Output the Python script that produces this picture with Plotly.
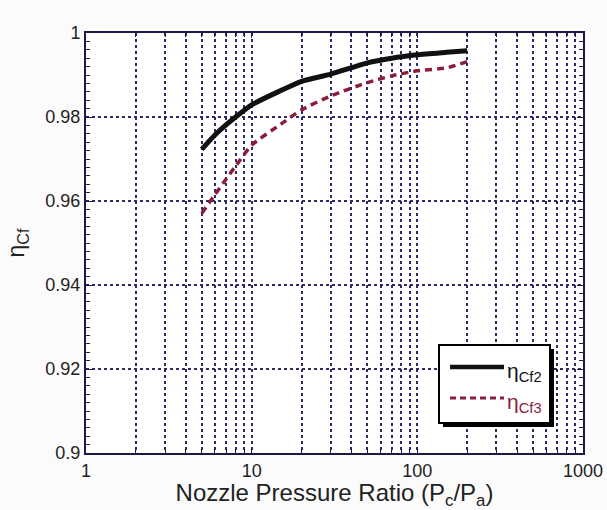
import plotly.graph_objects as go

# Nozzle pressure ratio samples (Pc/Pa)
npr = [5, 6, 7, 8, 10, 15, 20, 30, 50, 70, 100, 150, 200]
# Thrust-coefficient efficiencies
eta_cf2 = [0.9723, 0.9757, 0.9781, 0.9800, 0.9829, 0.9863, 0.9885, 0.9902, 0.9929, 0.9940, 0.9948, 0.9954, 0.9958]
eta_cf3 = [0.9571, 0.9615, 0.9652, 0.9683, 0.9733, 0.9783, 0.9817, 0.9850, 0.9882, 0.9898, 0.9910, 0.9917, 0.9932]
series_names = ["η<sub>Cf2</sub>", "η<sub>Cf3</sub>"]

x_ticks = [1, 10, 100, 1000]
x_tick_text = ["1", "10", "100", "1000"]
x_minor = [m * d for d in (1, 10, 100) for m in range(2, 10)]

FRAME = "#1c1848"
GRID = "#2e2a66"
BLACK = "#111111"
RED = "#8a1c3c"
FONT = "Liberation Sans, Arial, sans-serif"

fig = go.Figure()
fig.add_trace(go.Scatter(
    x=npr, y=eta_cf2, mode="lines", name=series_names[0], showlegend=False,
    line=dict(color=BLACK, width=5, shape="spline", smoothing=0.6),
))
fig.add_trace(go.Scatter(
    x=npr, y=eta_cf3, mode="lines", name=series_names[1], showlegend=False,
    line=dict(color=RED, width=3.5, dash="7px,5px", shape="spline", smoothing=0.6),
))

# Boxed key in the lower right, with a drop shadow (pixel -> paper helpers)
px0, py0, pw, ph = 86, 33, 497, 420
def pxx(v): return (v - px0) / pw
def pyy(v): return (py0 + ph - v) / ph

L, R, T, B = 439, 550, 345, 423
fig.add_shape(type="rect", xref="paper", yref="paper",
              x0=pxx(L + 4), x1=pxx(R + 4), y0=pyy(B + 4), y1=pyy(T + 4),
              fillcolor="#000000", line=dict(width=0), layer="above")
fig.add_shape(type="rect", xref="paper", yref="paper",
              x0=pxx(L), x1=pxx(R), y0=pyy(B), y1=pyy(T),
              fillcolor="#ffffff", line=dict(color="#000000", width=2), layer="above")

key_rows = [
    (367, BLACK, 4.5, "solid", BLACK),
    (398, RED, 3, "6px,4px", RED),
]
for (ky, col, w, dash, tcol), label in zip(key_rows, series_names):
    fig.add_shape(type="line", xref="paper", yref="paper",
                  x0=pxx(450), x1=pxx(504), y0=pyy(ky), y1=pyy(ky),
                  line=dict(color=col, width=w, dash=dash), layer="above")
    fig.add_annotation(xref="paper", yref="paper", x=pxx(505), y=pyy(ky + 5),
                       text=label, showarrow=False, xanchor="left", yanchor="middle",
                       font=dict(size=21, family=FONT, color=tcol))

fig.update_layout(
    width=607, height=510,
    margin=dict(l=86, r=24, t=33, b=57),
    paper_bgcolor="#fbfbfb", plot_bgcolor="#ffffff",
    font=dict(family=FONT, size=18, color="#222222"),
    showlegend=False,
    xaxis=dict(
        type="log", range=[0, 3], automargin=False,
        tickvals=x_ticks, ticktext=x_tick_text,
        showgrid=True, gridcolor=GRID, griddash="dot", gridwidth=1.5,
        ticks="inside", ticklen=5, tickcolor=FRAME,
        showline=True, linecolor=FRAME, linewidth=2, mirror="allticks",
        zeroline=False,
        minor=dict(tickvals=x_minor, showgrid=True, gridcolor=GRID,
                   griddash="dot", gridwidth=1.5, ticks="inside",
                   ticklen=4, tickcolor=FRAME),
        title=dict(text="Nozzle Pressure Ratio (P<sub>c</sub>/P<sub>a</sub>)",
                   font=dict(size=24, family=FONT), standoff=7),
        tickfont=dict(size=18),
    ),
    yaxis=dict(
        range=[0.9, 1.0], automargin=False,
        tickvals=[0.9, 0.92, 0.94, 0.96, 0.98, 1.0],
        ticktext=["0.9", "0.92", "0.94", "0.96", "0.98", "1"],
        showgrid=True, gridcolor=GRID, griddash="dot", gridwidth=1.5,
        ticks="inside", ticklen=6, tickcolor=FRAME,
        showline=True, linecolor=FRAME, linewidth=2, mirror="allticks",
        zeroline=False,
        minor=dict(dtick=0.002, tick0=0.9, ticks="inside", ticklen=4,
                   tickcolor=FRAME, showgrid=False),
        title=dict(text="η<sub>Cf</sub>", font=dict(size=23, family=FONT), standoff=14),
        tickfont=dict(size=18),
    ),
)

fig.write_html("out.html")
